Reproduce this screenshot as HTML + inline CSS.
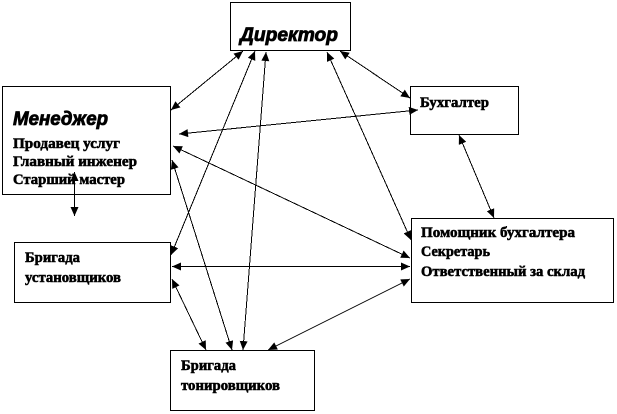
<!DOCTYPE html>
<html><head><meta charset="utf-8">
<style>
html,body{margin:0;padding:0;background:#fff}
svg{display:block}
text{font-family:"Liberation Serif","DejaVu Serif",serif;font-weight:bold;font-size:15px;fill:#000;stroke:#000;stroke-width:.55px}
.h{font-family:"Liberation Sans","DejaVu Sans",sans-serif;font-style:italic;font-size:19px;stroke-width:.8px}
rect{fill:#fff;stroke:#000;stroke-width:1;shape-rendering:crispEdges}
line{stroke:#000;stroke-width:1;marker-start:url(#s);marker-end:url(#e);shape-rendering:crispEdges}
</style></head><body>
<svg width="617" height="414" viewBox="0 0 617 414" xmlns="http://www.w3.org/2000/svg">
<defs>
<marker id="e" markerUnits="userSpaceOnUse" markerWidth="10" markerHeight="8" refX="9" refY="4" orient="auto"><path d="M0 0L9 4L0 8Z"/></marker>
<marker id="s" markerUnits="userSpaceOnUse" markerWidth="10" markerHeight="8" refX="0" refY="4" orient="auto"><path d="M9 0L0 4L9 8Z"/></marker>
</defs>
<rect x="230.5" y="2.5" width="120" height="48"/>
<rect x="2.5" y="86.5" width="168" height="108"/>
<rect x="410.5" y="86.5" width="108" height="48"/>
<rect x="411.5" y="218.5" width="202" height="84"/>
<rect x="14.5" y="242.5" width="156" height="60"/>
<rect x="170.5" y="350.5" width="144" height="60"/>
<line x1="243" y1="51" x2="171" y2="110"/>
<line x1="255" y1="51" x2="171" y2="255"/>
<line x1="266" y1="52" x2="243" y2="350"/>
<line x1="172" y1="160" x2="232" y2="350"/>
<line x1="179" y1="134" x2="418" y2="110"/>
<line x1="173" y1="146" x2="410" y2="258"/>
<line x1="340" y1="51" x2="410" y2="98"/>
<line x1="327" y1="52" x2="411" y2="240"/>
<line x1="459" y1="135" x2="494" y2="218"/>
<line x1="172" y1="266.5" x2="410" y2="266.5"/>
<line x1="172" y1="279" x2="206" y2="350"/>
<line x1="268" y1="350" x2="410" y2="279"/>
<line x1="74.5" y1="172" x2="74.5" y2="216"/>
<text class="h" x="240" y="41" textLength="98" lengthAdjust="spacingAndGlyphs">Директор</text>
<text class="h" x="13" y="125" textLength="95" lengthAdjust="spacingAndGlyphs">Менеджер</text>
<text x="13" y="148" textLength="107" lengthAdjust="spacingAndGlyphs">Продавец услуг</text>
<text x="13" y="166" textLength="124" lengthAdjust="spacingAndGlyphs">Главный инженер</text>
<text x="13" y="184" textLength="112" lengthAdjust="spacingAndGlyphs">Старший мастер</text>
<text x="420" y="107" textLength="69" lengthAdjust="spacingAndGlyphs">Бухгалтер</text>
<text x="421" y="237" textLength="154" lengthAdjust="spacingAndGlyphs">Помощник бухгалтера</text>
<text x="421" y="256" textLength="69" lengthAdjust="spacingAndGlyphs">Секретарь</text>
<text x="421" y="276" textLength="164" lengthAdjust="spacingAndGlyphs">Ответственный за склад</text>
<text x="25" y="262" textLength="55" lengthAdjust="spacingAndGlyphs">Бригада</text>
<text x="25" y="282" textLength="96" lengthAdjust="spacingAndGlyphs">установщиков</text>
<text x="181" y="370" textLength="55" lengthAdjust="spacingAndGlyphs">Бригада</text>
<text x="181" y="390" textLength="99" lengthAdjust="spacingAndGlyphs">тонировщиков</text>
</svg>
</body></html>
